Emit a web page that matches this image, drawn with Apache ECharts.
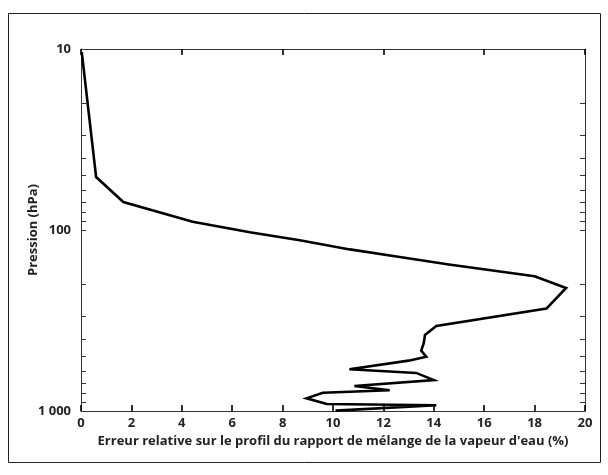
<!DOCTYPE html>
<html>
<head>
<meta charset="utf-8">
<script src="https://cdn.jsdelivr.net/npm/echarts@6/dist/echarts.min.js"></script>
<style>
  html, body { margin: 0; padding: 0; background: #fff; }
  #chart { width: 608px; height: 475px; }
</style>
</head>
<body>
<div id="chart"></div>
<script>
// erreur relative (%) et pression (hPa)
const errPct = [0.03, 0.6, 1.68, 4.43, 6.7, 8.68, 10.67, 12.65, 14.6, 18.0, 19.25, 18.47,
  14.1, 13.65, 13.6, 13.5, 13.7, 13.0, 10.65, 13.3, 14.0, 10.85, 12.25, 9.6, 8.95, 9.75, 14.1, 10.1]
const pressure = [10.4, 51, 70, 90, 103, 114, 128, 141, 155, 180, 209, 272,
  339, 380, 422, 464, 501, 527, 588, 616, 675, 727, 768, 792, 851, 915, 930, 995]
const xRange = [0, 20]
const xStepBottom = 2
const xStepTop = 4
const yRange = [10, 1000]
const yLabels = { 10: '10', 100: '100', 1000: '1 000' }

const font = '"Open Sans", "Noto Sans", sans-serif'
const axisColor = '#333'

const chart = echarts.init(document.getElementById('chart'))

const points = errPct.map((v, i) => [v, pressure[i]])

function xAxisOpt(pos, step) {
  return {
    type: 'value',
    position: pos,
    min: xRange[0],
    max: xRange[1],
    interval: step,
    axisLine: { show: true, onZero: false, lineStyle: { color: axisColor, width: 1 } },
    axisTick: { show: true, inside: true, length: 6, lineStyle: { color: '#000', width: 1.6 } },
    axisLabel: { show: false },
    splitLine: { show: false }
  }
}
function yAxisOpt(pos) {
  return {
    type: 'log',
    position: pos,
    logBase: 10,
    min: yRange[0],
    max: yRange[1],
    inverse: true,
    axisLine: { show: true, onZero: false, lineStyle: { color: axisColor, width: 1 } },
    axisTick: { show: true, inside: true, length: 5, lineStyle: { color: axisColor } },
    minorTick: { show: true, splitNumber: 9, length: 5, lineStyle: { color: axisColor } },
    axisLabel: { show: false },
    splitLine: { show: false },
    minorSplitLine: { show: false }
  }
}

const xBottom = Object.assign(xAxisOpt('bottom', xStepBottom), {
  axisLabel: { color: '#222', fontFamily: font, fontWeight: 'bold', fontSize: 13, margin: 6 },
  name: 'Erreur relative sur le profil du rapport de mélange de la vapeur d\'eau (%)',
  nameLocation: 'middle',
  nameGap: 19,
  nameTextStyle: { color: '#222', fontFamily: font, fontWeight: 'bold', fontSize: 13 }
})
const yLeft = Object.assign(yAxisOpt('left'), {
  axisLabel: {
    color: '#222', fontFamily: font, fontWeight: 'bold', fontSize: 13, margin: 10,
    formatter: v => yLabels[Math.round(v)] || ''
  }
})

chart.setOption({
  animation: false,
  grid: { left: 81, top: 49, right: 23, bottom: 64, containLabel: false },
  graphic: [{
    type: 'rect',
    shape: { x: 8.5, y: 13.5, width: 592, height: 449 },
    style: { fill: 'none', stroke: '#222', lineWidth: 1 },
    silent: true
  }, {
    // titre de l'axe des pressions
    type: 'text',
    x: 33,
    y: 230,
    rotation: Math.PI / 2,
    style: {
      text: 'Pression (hPa)',
      align: 'center',
      verticalAlign: 'middle',
      fill: '#222',
      fontFamily: font,
      fontWeight: 'bold',
      fontSize: 13
    },
    silent: true
  }],
  xAxis: [xBottom, xAxisOpt('top', xStepTop)],
  yAxis: [yLeft, yAxisOpt('right')],
  series: [{
    type: 'line',
    xAxisIndex: 0,
    yAxisIndex: 0,
    data: points,
    showSymbol: false,
    clip: false,
    lineStyle: { color: '#000', width: 2.6, join: 'miter' }
  }]
})
</script>
</body>
</html>
